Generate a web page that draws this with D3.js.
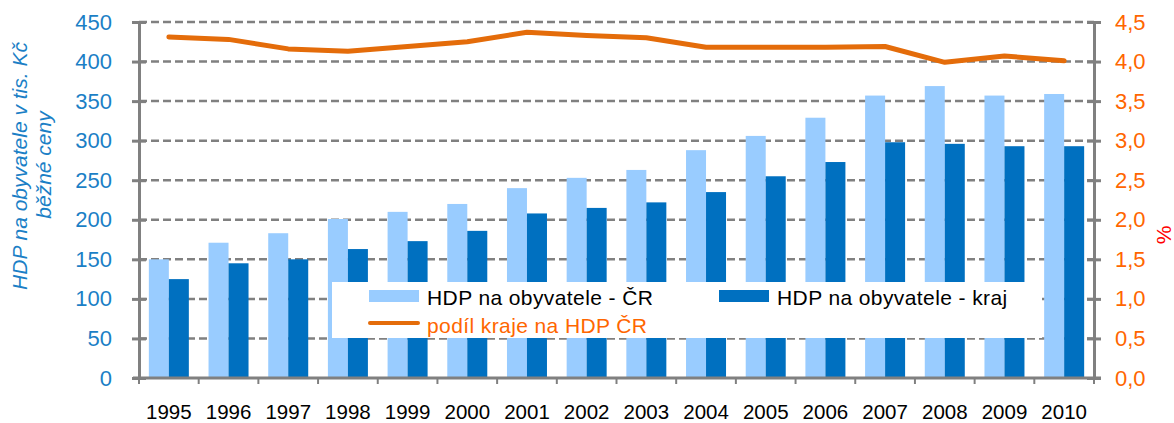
<!DOCTYPE html>
<html>
<head>
<meta charset="utf-8">
<script src="https://cdn.jsdelivr.net/npm/d3@7"></script>
<style>
  body { margin: 0; background: #fff; }
  svg { font-family: "Liberation Sans", Arial, sans-serif; }
</style>
</head>
<body>
<svg width="1174" height="423"></svg>
<script>
// data
var years = ["1995","1996","1997","1998","1999","2000","2001","2002","2003","2004","2005","2006","2007","2008","2009","2010"];
var hdpCR = [150,171,183,201,210,220,240,253,263,288,306,329,357,369,357,359];
var hdpKraj = [125,145,150,163,173,186,208,215,222,235,255,273,298,296,293,293];
var podil = [4.31,4.28,4.16,4.13,4.19,4.25,4.37,4.33,4.30,4.18,4.18,4.18,4.19,3.99,4.07,4.01];
var leftTicks = [0,50,100,150,200,250,300,350,400,450];
var rightTicks = [0,0.5,1,1.5,2,2.5,3,3.5,4,4.5];

var svg = d3.select("svg");
var margin = {top: 22, left: 139, right: 80, bottom: 45};
var width = 1174 - margin.left - margin.right;
var height = 423 - margin.top - margin.bottom;
var font = "Liberation Sans, Arial, sans-serif";

var plot = svg.append("g").attr("transform", "translate(" + margin.left + "," + margin.top + ")");

var x = d3.scaleBand().domain(years).range([0, width]);
var yL = d3.scaleLinear().domain([0, 450]).range([height, 0]);
var yR = d3.scaleLinear().domain([0, 4.5]).range([height, 0]);
var barW = 20;

// grid
plot.selectAll("line.grid").data(leftTicks.slice(1)).enter().append("line")
  .attr("class", "grid")
  .attr("x1", 0).attr("x2", width)
  .attr("y1", function(d){ return yL(d); }).attr("y2", function(d){ return yL(d); })
  .attr("stroke", "#808080").attr("stroke-width", 2.5).attr("stroke-dasharray", "8,4");

// bars
plot.selectAll("rect.cr").data(hdpCR).enter().append("rect")
  .attr("class", "cr")
  .attr("x", function(d, i){ return x(years[i]) + x.bandwidth()/2 - barW; })
  .attr("y", function(d){ return yL(d); })
  .attr("width", barW)
  .attr("height", function(d){ return height - yL(d); })
  .attr("fill", "#99ccff");
plot.selectAll("rect.kraj").data(hdpKraj).enter().append("rect")
  .attr("class", "kraj")
  .attr("x", function(d, i){ return x(years[i]) + x.bandwidth()/2; })
  .attr("y", function(d){ return yL(d); })
  .attr("width", barW)
  .attr("height", function(d){ return height - yL(d); })
  .attr("fill", "#0070c0");

// line
var line = d3.line()
  .x(function(d, i){ return x(years[i]) + x.bandwidth()/2; })
  .y(function(d){ return yR(d); });
plot.append("path").datum(podil)
  .attr("d", line)
  .attr("fill", "none").attr("stroke", "#e46c0a").attr("stroke-width", 5)
  .attr("stroke-linecap", "round").attr("stroke-linejoin", "round");

// legend
var leg = svg.append("g").attr("transform", "translate(332,282)");
leg.append("rect").attr("width", 710).attr("height", 56).attr("fill", "#fff");
leg.append("rect").attr("x", 37).attr("y", 8).attr("width", 50).attr("height", 12).attr("fill", "#99ccff");
leg.append("text").attr("x", 95).attr("y", 23).text("HDP na obyvatele - ČR")
  .attr("font-size", 21).attr("fill", "#000").attr("letter-spacing", 0.4);
leg.append("rect").attr("x", 387).attr("y", 8).attr("width", 50).attr("height", 12).attr("fill", "#0070c0");
leg.append("text").attr("x", 445).attr("y", 23).text("HDP na obyvatele - kraj")
  .attr("font-size", 21).attr("fill", "#000").attr("letter-spacing", 0.4);
leg.append("line").attr("x1", 38).attr("x2", 86).attr("y1", 41).attr("y2", 41)
  .attr("stroke", "#e46c0a").attr("stroke-width", 4).attr("stroke-linecap", "round");
leg.append("text").attr("x", 95).attr("y", 51).text("podíl kraje na HDP ČR")
  .attr("font-size", 21).attr("fill", "#ff6600").attr("letter-spacing", 0.4);

// axes
var axisL = d3.axisLeft(yL).tickValues(leftTicks).tickSize(7).tickPadding(20);
var gL = plot.append("g").call(axisL);
gL.selectAll("text").attr("fill", "#1b7fc6").attr("font-size", 22).attr("font-family", font);

var axisR = d3.axisRight(yR).tickValues(rightTicks).tickSize(7).tickPadding(14)
  .tickFormat(function(d){ return d3.format(".1f")(d).replace(".", ","); });
var gR = plot.append("g").attr("transform", "translate(" + width + ",0)").call(axisR);
gR.selectAll("text").attr("fill", "#ff6600").attr("font-size", 22).attr("font-family", font);

var axisX = d3.axisBottom(x).tickSize(0).tickPadding(26);
var gX = plot.append("g").attr("transform", "translate(0," + height + ")").call(axisX);
gX.selectAll("text").attr("fill", "#000").attr("font-size", 20.5).attr("font-family", font);
gX.selectAll(".tick line").remove();
plot.append("g").selectAll("line").data(years.concat(["end"])).enter().append("line")
  .attr("x1", function(d, i){ return i * x.step(); }).attr("x2", function(d, i){ return i * x.step(); })
  .attr("y1", height).attr("y2", height + 6)
  .attr("stroke", "#808080").attr("stroke-width", 2);

[gL, gR, gX].forEach(function(g){
  g.select(".domain").attr("stroke", "#808080").attr("stroke-width", 3);
  g.selectAll(".tick line").attr("stroke", "#808080").attr("stroke-width", 3);
});
gL.selectAll(".tick line").attr("x1", 7);
gR.selectAll(".tick line").attr("x1", -7);
gL.select(".domain").attr("d", "M0.5," + height + "V0.5");
gR.select(".domain").attr("d", "M0.5," + height + "V0.5");
gX.select(".domain").attr("d", "M-6,0H" + (width + 7));

// axis titles
svg.append("text")
  .attr("transform", "translate(27,166)rotate(-90)")
  .attr("text-anchor", "middle").attr("font-size", 21).attr("font-style", "italic")
  .attr("fill", "#1b7fc6")
  .text("HDP na obyvatele v tis. Kč");
svg.append("text")
  .attr("transform", "translate(51,165)rotate(-90)")
  .attr("text-anchor", "middle").attr("font-size", 21).attr("font-style", "italic")
  .attr("fill", "#1b7fc6")
  .text("běžné ceny");
svg.append("text")
  .attr("transform", "translate(1171,235)rotate(-90)")
  .attr("text-anchor", "middle").attr("font-size", 21)
  .attr("fill", "#ff0000")
  .text("%");
</script>
</body>
</html>
